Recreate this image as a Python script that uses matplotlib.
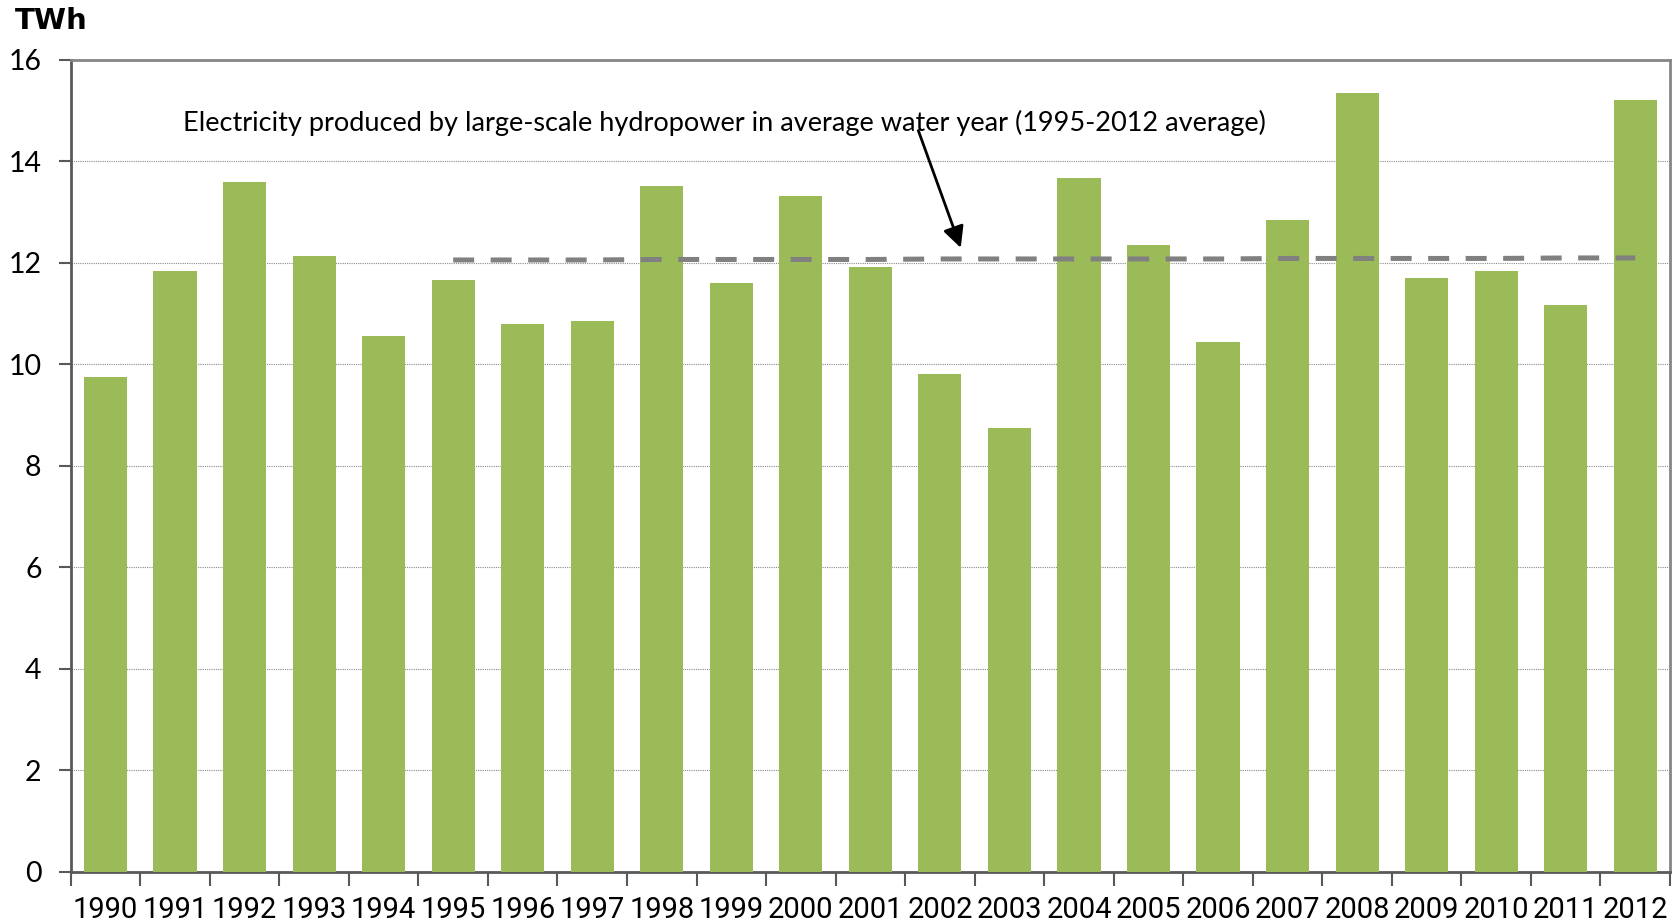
import numpy as np
import matplotlib
matplotlib.use('Agg')
import matplotlib.pyplot as plt
from matplotlib import font_manager as fm

# annual electricity from large-scale hydropower, TWh
years = [str(y) for y in range(1990, 2013)]
twh = [9.75, 11.83, 13.59, 12.13, 10.55, 11.65, 10.78, 10.84, 13.50, 11.60,
       13.32, 11.91, 9.81, 8.74, 13.66, 12.35, 10.43, 12.84, 15.34, 11.70,
       11.83, 11.17, 15.21]
# average water year line, 1995-2012
avg_years = [str(y) for y in range(1995, 2013)]
avg_twh = [12.05, 12.05, 12.05, 12.06, 12.06, 12.06, 12.06, 12.07, 12.07,
           12.07, 12.07, 12.07, 12.08, 12.08, 12.08, 12.08, 12.09, 12.09]
yticks = [0, 2, 4, 6, 8, 10, 12, 14, 16]
note = 'Electricity produced by large-scale hydropower in average water year (1995-2012 average)'

names = set(f.name for f in fm.fontManager.ttflist)
narrow = 'Roboto' if 'Roboto' in names else 'DejaVu Sans'
main_font = 'Lato' if 'Lato' in names else 'DejaVu Sans'

fig = plt.figure(figsize=(16.72, 9.24), dpi=100)
ax = fig.add_axes([0.0423, 0.0568, 0.9565, 0.8788])

x = np.arange(len(years))
ax.bar(x, twh, width=0.62, color='#9BBB59', zorder=3)

xa = [years.index(y) for y in avg_years]
ax.plot(xa, avg_twh, color='#808080', lw=3.6, dashes=(4.2, 3.3), zorder=4)

ax.set_xlim(-0.5, len(years) - 0.5)
ax.set_ylim(0, 16)
ax.set_yticks(yticks)
ax.set_yticklabels([str(v) for v in yticks], fontsize=20.5, family=main_font)
ax.grid(axis='y', color='#8c8c8c', lw=0.8, ls=(0, (1, 1)), zorder=1)

ax.set_xticks(x)
ax.set_xticklabels(years, fontsize=21, family=narrow)
ax.set_xticks(np.arange(len(years) + 1) - 0.5, minor=True)
ax.tick_params(axis='x', which='major', length=0, pad=17.5)
ax.tick_params(axis='x', which='minor', length=10, width=1.5, color='#595959')
ax.tick_params(axis='y', length=9, width=1.5, color='#595959', pad=12)

for s in ['top', 'right']:
    ax.spines[s].set_color('#868686')
    ax.spines[s].set_linewidth(2)
for s in ['left', 'bottom']:
    ax.spines[s].set_color('#595959')
    ax.spines[s].set_linewidth(2)

ax.text(1.116, 14.75, note, fontsize=19.5, family=main_font, ha='left', va='center')
ax.annotate('', xy=(12.3, 12.29), xytext=(11.69, 14.6),
            arrowprops=dict(arrowstyle='-|>', color='black', lw=2,
                            mutation_scale=32, shrinkA=0, shrinkB=0))

fig.text(0.009, 0.977, 'TWh', fontsize=21, fontweight='bold', ha='left', va='center')

fig.savefig('out.png', dpi=100)
